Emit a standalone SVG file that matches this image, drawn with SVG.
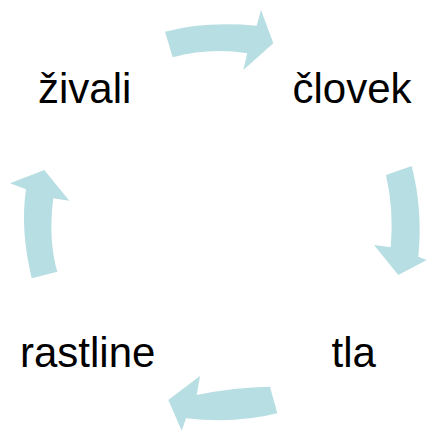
<svg xmlns="http://www.w3.org/2000/svg" width="427" height="431" viewBox="0 0 427 431">
<style>
.arr{fill:#b7dee2;stroke:none}
.lbl{font-family:"Liberation Sans",Arial,sans-serif;font-size:42px;fill:#000}
</style>
<rect width="427" height="431" fill="#fff"/>
<g id="connectors">
<path class="arr" d="M165,31.7 Q205,21 256.7,25.7 L261,10 L273.3,43.3 L243.3,70 L247.3,53.3 Q210,47 172.7,57.3 Z"/>
<path class="arr" d="M411.7,166 Q423,210 418.3,256.7 L426.7,260 L398.3,275 L374,245 L390.7,247.3 Q394,210 386,175 Z"/>
<path class="arr" d="M277.3,413.3 Q235,424 186,418.3 L181.7,430.7 L168.3,400 L200,376 L196.7,395 Q235,387 270,386.7 Z"/>
<path class="arr" d="M31.7,278.3 Q20,230 26,189.3 L10,183.3 L44.3,170 L69.3,200.7 L53.3,198.3 Q48,240 57.3,271.7 Z"/>
</g>
<g id="zivali"><text class="lbl" x="38" y="103.3">živali</text></g>
<g id="clovek"><text class="lbl" x="292.5" y="103.3">človek</text></g>
<g id="tla"><text class="lbl" x="331.5" y="366.7">tla</text></g>
<g id="rastline"><text class="lbl" x="20" y="366.7">rastline</text></g>
</svg>
